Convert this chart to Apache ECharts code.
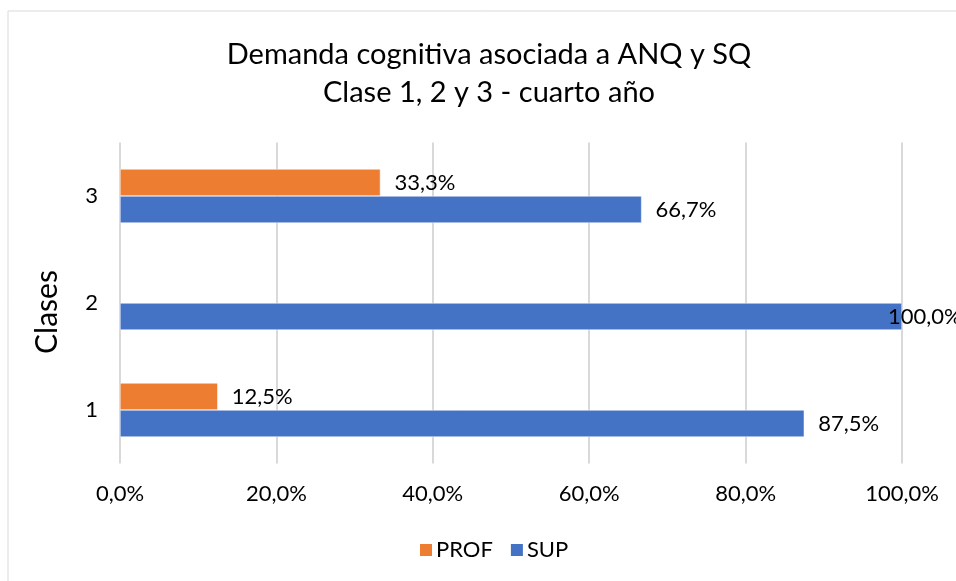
<!DOCTYPE html>
<html>
<head>
<meta charset="utf-8">
<script src="https://cdn.jsdelivr.net/npm/echarts@6/dist/echarts.min.js"></script>
<style>
  html, body { margin: 0; padding: 0; background: #fff; }
  #chart { width: 956px; height: 581px; }
</style>
</head>
<body>
<div id="chart"></div>
<script>
const categories = ['1', '2', '3']
const profValues = [12.5, 0, 33.3]
const supValues = [87.5, 100, 66.7]
const xTicks = [0, 20, 40, 60, 80, 100]

const FONT = 'Lato, "Open Sans", sans-serif'
const fmt = v => v.toFixed(1).replace('.', ',') + '%'

const chart = echarts.init(document.getElementById('chart'))

// zero values get no label and no border, 100% label is pulled back inside the chart like Excel does
const makeData = (values) => values.map(v => {
  if (v === 0) return { value: v, label: { show: false }, itemStyle: { borderWidth: 0 } }
  if (v >= 100) return { value: v, label: { offset: [-28, 0] } }
  return v
})

const labelStyle = {
  show: true,
  position: 'right',
  distance: 14,
  color: '#000',
  fontSize: 22,
  fontFamily: FONT,
  formatter: p => fmt(p.value)
}

chart.setOption({
  backgroundColor: '#fff',
  animation: false,
  graphic: [{
    type: 'rect',
    shape: { x: 8, y: 11, width: 1000, height: 620 },
    style: { fill: 'none', stroke: '#d9d9d9', lineWidth: 1 },
    silent: true
  }],
  title: {
    text: 'Demanda cognitiva asociada a ANQ y SQ\nClase 1, 2 y 3 - cuarto año',
    left: 484,
    top: 31,
    textAlign: 'center',
    textStyle: {
      color: '#000',
      fontSize: 29,
      fontWeight: 'normal',
      fontFamily: FONT,
      lineHeight: 38
    }
  },
  legend: {
    data: ['PROF', 'SUP'],
    left: 413,
    top: 534,
    icon: 'rect',
    itemWidth: 14,
    itemHeight: 14,
    itemGap: 16,
    textStyle: { color: '#000', fontSize: 22, fontFamily: FONT, padding: [0, 0, 0, -2] }
  },
  grid: { left: 120, right: 54, top: 142.5, bottom: 117.5 },
  xAxis: {
    type: 'value',
    min: 0,
    max: 100,
    interval: 20,
    axisLine: { show: false },
    axisTick: { show: false },
    splitLine: { lineStyle: { color: '#d9d9d9', width: 2 } },
    axisLabel: {
      color: '#000',
      fontSize: 22,
      fontFamily: FONT,
      margin: 19,
      formatter: v => xTicks.includes(v) ? fmt(v) : ''
    }
  },
  yAxis: {
    type: 'category',
    data: categories,
    name: 'Clases',
    nameLocation: 'middle',
    nameGap: 58,
    nameRotate: 90,
    nameTextStyle: { color: '#000', fontSize: 30, fontFamily: FONT, padding: [0, 18, 0, 0] },
    axisLine: { show: false },
    axisTick: { show: false },
    axisLabel: { color: '#000', fontSize: 22, fontFamily: FONT, margin: 22 }
  },
  series: [
    {
      name: 'PROF',
      type: 'bar',
      data: makeData(profValues),
      barWidth: 27,
      barGap: '0%',
      itemStyle: { color: '#ED7D31', borderColor: '#fff', borderWidth: 0.5 },
      label: labelStyle
    },
    {
      name: 'SUP',
      type: 'bar',
      data: makeData(supValues),
      barWidth: 27,
      barGap: '0%',
      itemStyle: { color: '#4472C4', borderColor: '#fff', borderWidth: 0.5 },
      label: labelStyle
    }
  ]
})
</script>
</body>
</html>
